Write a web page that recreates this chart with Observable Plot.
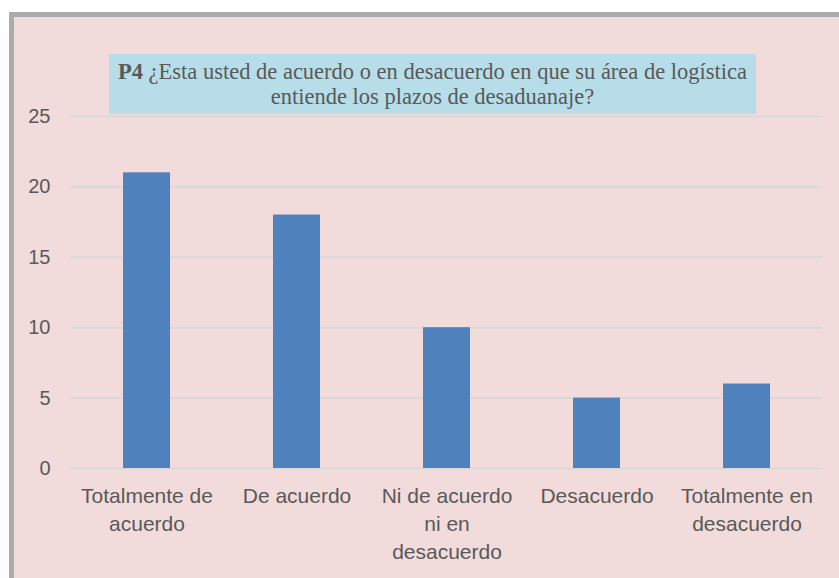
<!DOCTYPE html>
<html>
<head>
<meta charset="utf-8">
<script src="https://cdn.jsdelivr.net/npm/d3@7"></script>
<script src="https://cdn.jsdelivr.net/npm/@observablehq/plot@0.6"></script>
<style>
  html, body { margin: 0; padding: 0; background: #ffffff; overflow: hidden; }
  #wrap { position: relative; width: 839px; height: 578px; overflow: hidden; }
  #panel { position: absolute; left: 9px; top: 12px; width: 900px; height: 700px;
           background: #f2dcdb; border-left: 5px solid #ababab; border-top: 5px solid #ababab; }
  #chart { position: absolute; left: 0; top: 0; }
  #title { position: absolute; left: 109px; top: 54px; width: 647px; height: 60px;
           background: #b7dee8; color: #595959; text-align: center;
           font-family: "Liberation Serif", "Times New Roman", serif; font-size: 22.5px;
           line-height: 25px; box-sizing: border-box; padding-top: 5px; white-space: nowrap; }
  #title b { font-weight: bold; }
</style>
</head>
<body>
<div id="wrap">
  <div id="panel"></div>
  <div id="chart"></div>
  <div id="title"><b>P4</b> ¿Esta usted de acuerdo o en desacuerdo en que su área de logística<br>entiende los plazos de desaduanaje?</div>
</div>
<script>
const categories = ["Totalmente de acuerdo", "De acuerdo", "Ni de acuerdo ni en desacuerdo", "Desacuerdo", "Totalmente en desacuerdo"];
const values = [21, 18, 10, 5, 6];
const tickLabels = ["Totalmente de\nacuerdo", "De acuerdo", "Ni de acuerdo\nni en\ndesacuerdo", "Desacuerdo", "Totalmente en\ndesacuerdo"];
const yTicks = [0, 5, 10, 15, 20, 25];

const data = categories.map((c, i) => ({category: c, value: values[i]}));
const labelOf = new Map(categories.map((c, i) => [c, tickLabels[i]]));

const chart = Plot.plot({
  width: 839,
  height: 578,
  marginLeft: 71,
  marginRight: 17,
  marginTop: 116,
  marginBottom: 110,
  style: {background: "transparent", color: "#595959", fontFamily: "'Liberation Sans', Arial, sans-serif", fontSize: "20px"},
  x: {domain: categories, paddingInner: 0.69, paddingOuter: 0.345, label: null},
  y: {domain: [0, 25], label: null},
  marks: [
    Plot.gridY(yTicks, {stroke: "#d9d9d9", strokeOpacity: 1, strokeWidth: 2}),
    Plot.barY(data, {x: "category", y: "value", fill: "#4f81bd"}),
    Plot.axisY(yTicks, {tickSize: 0, tickPadding: 21, label: null, fontSize: 20, fill: "#595959"}),
    Plot.axisX({tickSize: 0, tickPadding: 15, label: null, fontSize: 21, lineHeight: 1.33, fill: "#595959",
                tickFormat: d => labelOf.get(d)})
  ]
});
document.getElementById("chart").appendChild(chart);
</script>
</body>
</html>
